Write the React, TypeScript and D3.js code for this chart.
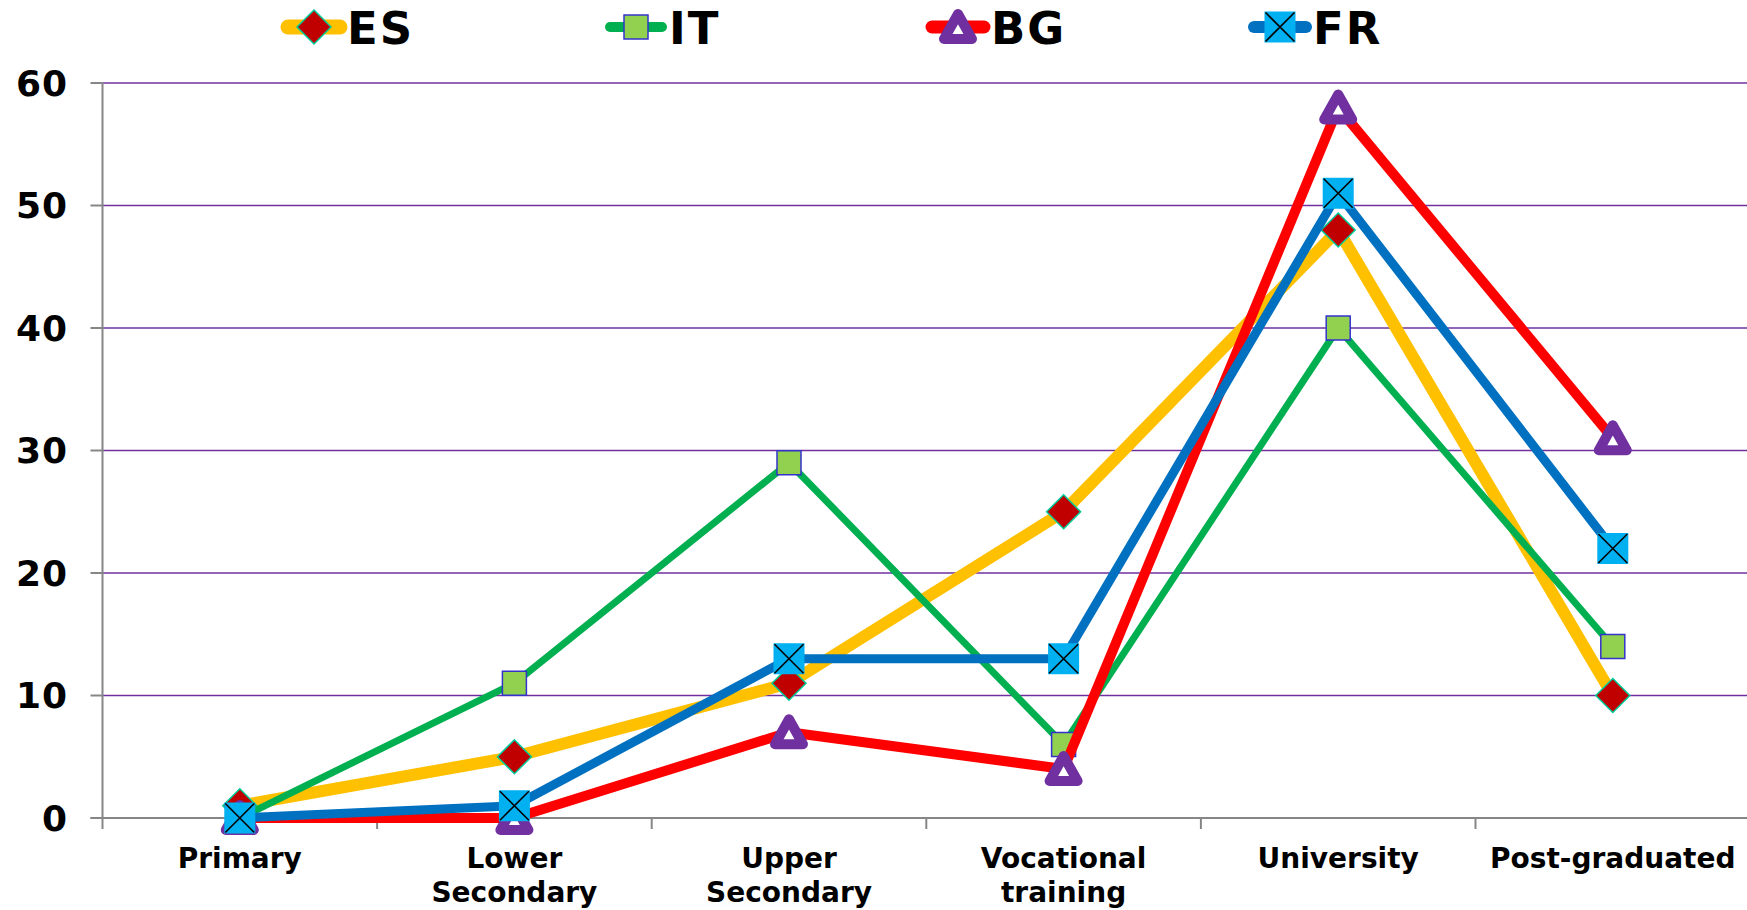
import React from 'react';
import * as d3 from 'd3';

const categories = [
  ['Primary'],
  ['Lower', 'Secondary'],
  ['Upper', 'Secondary'],
  ['Vocational', 'training'],
  ['University'],
  ['Post-graduated'],
];
const seriesNames = ['ES', 'IT', 'BG', 'FR'];
const esValues = [1, 5, 11, 25, 48, 10];
const itValues = [0, 11, 29, 6, 40, 14];
const bgValues = [0, 0, 7, 4, 58, 31];
const frValues = [0, 1, 13, 13, 51, 22];
const yTicks = [0, 10, 20, 30, 40, 50, 60];

const W = 1747;
const H = 910;
const left = 102.5;
const top = 83;
const bottom = 818;

const styles = [
  { line: '#FFC000', width: 12, marker: 'diamond' },
  { line: '#00B050', width: 7, marker: 'square' },
  { line: '#FF0000', width: 10, marker: 'triangle' },
  { line: '#0070C0', width: 9, marker: 'cross' },
];

const Marker = ({ kind, x, y }: { kind: string; x: number; y: number }) => {
  if (kind === 'diamond') {
    const s = 17;
    return (
      <path
        d={`M${x},${y - s}L${x + s},${y}L${x},${y + s}L${x - s},${y}Z`}
        fill="#C00000"
        stroke="#00CC99"
        strokeWidth={1.5}
      />
    );
  }
  if (kind === 'square') {
    const s = 12;
    return <rect x={x - s} y={y - s} width={2 * s} height={2 * s} fill="#92D050" stroke="#3333CC" strokeWidth={1.5} />;
  }
  if (kind === 'triangle') {
    return (
      <path
        d={`M${x},${y - 13}L${x + 14},${y + 12}L${x - 14},${y + 12}Z`}
        fill="#fff"
        stroke="#7030A0"
        strokeWidth={10}
        strokeLinejoin="round"
      />
    );
  }
  const s = 15.5;
  return (
    <g>
      <rect x={x - s} y={y - s} width={2 * s} height={2 * s} fill="#00B0F0" />
      <path
        d={`M${x - s + 1},${y - s + 1}L${x + s - 1},${y + s - 1}M${x + s - 1},${y - s + 1}L${x - s + 1},${y + s - 1}`}
        stroke="#000"
        strokeWidth={1.6}
      />
    </g>
  );
};

export default function App() {
  const data = [esValues, itValues, bgValues, frValues];
  const x = d3
    .scaleBand<number>()
    .domain(categories.map((_, i) => i))
    .range([left, left + 6 * 274.6])
    .padding(0);
  const cx = (i: number) => (x(i) as number) + x.bandwidth() / 2;
  const y = d3.scaleLinear().domain([0, 60]).range([bottom, top]);
  const line = d3
    .line<number>()
    .x((_, i) => cx(i))
    .y((d) => y(d));

  return (
    <svg width={W} height={H} style={{ position: 'absolute', left: 0, top: 0, background: '#fff' }}>
      <g fontFamily="'DejaVu Sans', Verdana, sans-serif" fontWeight="bold">
        {yTicks.map((t) => (
          <g key={t}>
            {t > 0 && <line x1={left} x2={W} y1={y(t)} y2={y(t)} stroke="#7030A0" strokeWidth={1.6} />}
            <line x1={left - 12} x2={left} y1={y(t)} y2={y(t)} stroke="#868686" strokeWidth={2} />
            <text x={68} y={y(t)} dy="0.36em" textAnchor="end" fontSize={36} letterSpacing={1}>
              {t}
            </text>
          </g>
        ))}
        <line x1={left} x2={left} y1={top} y2={bottom} stroke="#868686" strokeWidth={2} />
        <line x1={left - 12} x2={W} y1={bottom} y2={bottom} stroke="#868686" strokeWidth={2} />
        {categories.map((c, i) => (
          <g key={i}>
            <line x1={x(i)} x2={x(i)} y1={bottom} y2={bottom + 11} stroke="#868686" strokeWidth={2} />
            <text x={cx(i)} y={868} textAnchor="middle" fontSize={28}>
              {c.map((l, j) => (
                <tspan key={j} x={cx(i)} dy={j === 0 ? 0 : 34}>
                  {l}
                </tspan>
              ))}
            </text>
          </g>
        ))}
        {data.map((vals, s) => (
          <g key={s}>
            <path
              d={line(vals) || ''}
              fill="none"
              stroke={styles[s].line}
              strokeWidth={styles[s].width}
              strokeLinejoin="round"
            />
            {vals.map((v, i) => (
              <Marker key={i} kind={styles[s].marker} x={cx(i)} y={y(v)} />
            ))}
          </g>
        ))}
        {seriesNames.map((n, s) => {
          const mx = 314 + s * 322;
          return (
            <g key={n}>
              <line
                x1={mx - 26}
                x2={mx + 26}
                y1={27}
                y2={27}
                stroke={styles[s].line}
                strokeWidth={styles[s].width + 3}
                strokeLinecap="round"
              />
              <Marker kind={styles[s].marker} x={mx} y={27} />
              <text x={mx + 33} y={44} fontSize={45} letterSpacing={2}>
                {n}
              </text>
            </g>
          );
        })}
      </g>
    </svg>
  );
}
